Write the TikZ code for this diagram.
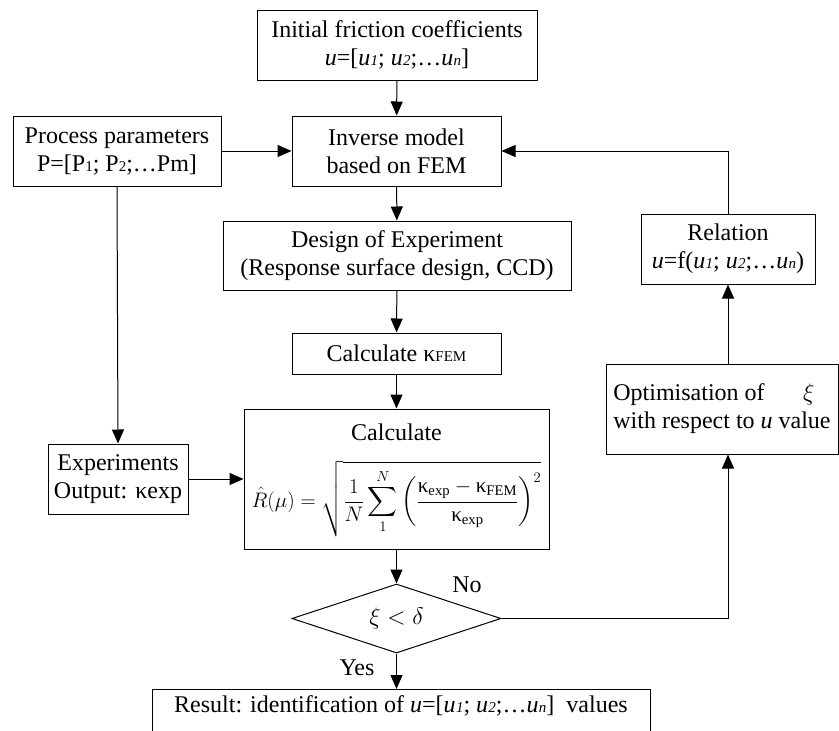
\RequirePackage{fix-cm}
\documentclass[tikz,border=0pt]{standalone}
\usepackage{amsmath}
\usepackage{fontspec}
\setmainfont{Liberation Serif}
\usetikzlibrary{arrows.meta,shapes.geometric}

% upright kappa from the text font, small index digits and letters
\newcommand{\kp}{\textnormal{κ}}
\newcommand{\idx}[1]{{\fontsize{15}{15}\selectfont #1}}
\newcommand{\ui}[1]{\textit{u\kern0.3pt\idx{#1}}}

\begin{document}
\begin{tikzpicture}[x=1pt, y=-1pt,
  every node/.style={font=\fontsize{24}{28}\selectfont},
  box/.style={draw, line width=1pt, inner sep=0pt, align=center},
  decision/.style={draw, diamond, line width=1pt, inner sep=0pt, shape aspect=2.6},
  link/.style={line width=1pt, -{Triangle[length=14pt,width=12pt]}}]
  \useasboundingbox (0,0) rectangle (839,731);

  % boxes of the main column
  \node[box, minimum width=280pt, minimum height=70pt] (init) at (397,45)
    {Initial friction coefficients\\ \textit{u}=[\ui{1}; \ui{2};\ldots\ui{n}]};
  \node[box, minimum width=209pt, minimum height=70pt] (inv) at (396.5,151)
    {Inverse model\\ based on FEM};
  \node[box, minimum width=348pt, minimum height=69pt] (doe) at (397,255.5)
    {Design of Experiment\\ (Response surface design, CCD)};
  \node[box, minimum width=209pt, minimum height=41pt] (kfem) at (396.5,353.5)
    {Calculate \kp\idx{FEM}};
  \node[box, minimum width=305pt, minimum height=140pt] (calc) at (396.5,479)
    {\begin{tabular}{@{}c@{}}
       Calculate\\[12pt]
       \fontsize{21}{21}\selectfont
       $\displaystyle \hat{R}(\mu)=\sqrt{\frac{1}{N}\sum_{1}^{N}\left(\frac{\kp_{\mathrm{exp}}-\kp_{\mathrm{FEM}}}{\kp_{\mathrm{exp}}}\right)^{2}}$
     \end{tabular}};
  \node[decision, minimum width=209pt, minimum height=69pt] (dia) at (396.5,618.5)
    {$\xi<\delta$};
  \node[box, anchor=north, minimum width=498pt, text height=23pt, text depth=40pt] (res) at (401,689)
    {Result: identification of \textit{u}=[\ui{1}; \ui{2};\ldots\ui{n}]~ values};

  % left column
  \node[box, minimum width=208pt, minimum height=70pt] (proc) at (117,151)
    {Process parameters\\ P=[P\idx{1}; P\idx{2};\ldots Pm]};
  \node[box, minimum width=140pt, minimum height=70pt] (exp) at (118,479)
    {Experiments\\ Output: \kp exp};

  % right column
  \node[box, minimum width=174pt, minimum height=70pt] (rel) at (728,249)
    {Relation\\ \textit{u}=f(\ui{1}; \ui{2};\ldots\ui{n})};
  \node[box, align=left, minimum width=232pt, minimum height=90pt] (opt) at (722,409)
    {Optimisation of\hspace{1.6em}$\xi$\\ with respect to \textit{u} value};

  % connectors
  \draw[link] (init) -- (inv);
  \draw[link] (proc) -- (inv);
  \draw[link] (inv) -- (doe);
  \draw[link] (doe) -- (kfem);
  \draw[link] (kfem) -- (calc);
  \draw[link] (proc.south) -- (exp.north);
  \draw[link] (exp) -- (calc);
  \draw[link] (calc) -- (dia);
  \draw[link] (dia.south) -- (dia.south |- res.north);
  \draw[link] (dia.east) -| (rel |- opt.south);
  \draw[link] (rel |- opt.north) -- (rel.south);
  \draw[link] (rel.north) |- (inv.east);

  % branch labels
  \node (no) at (467,585) {No};
  \node (yes) at (357,668) {Yes};
\end{tikzpicture}
\end{document}
